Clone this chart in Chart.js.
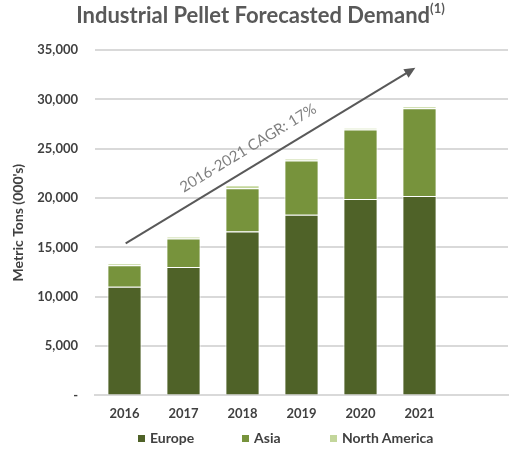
<!DOCTYPE html>
<html>
<head>
<meta charset="utf-8">
<script src="https://cdn.jsdelivr.net/npm/chart.js@4"></script>
<style>
  body { margin: 0; background: #fff; }
  #wrap { position: relative; width: 521px; height: 465px; }
  #title {
    position: absolute; left: 0; top: 1px; width: 521px; text-align: center;
    font-family: Lato, "Open Sans", sans-serif; font-weight: bold; font-size: 22px; color: #595959;
  }
  #title sup { font-size: 13px; position: relative; top: -2px; }
  #legend {
    position: absolute; left: 0; top: 429px; width: 521px;
    font-family: Lato, "Open Sans", sans-serif; font-weight: bold; font-size: 14px; color: #404040;
  }
  #legend span.item { position: absolute; white-space: nowrap; }
  #legend span.box { display: inline-block; width: 7px; height: 7px; margin-right: 5px; vertical-align: 1px; }
</style>
</head>
<body>
<div id="wrap">
  <div id="title">Industrial Pellet Forecasted Demand<sup>(1)</sup></div>
  <canvas id="chart" width="521" height="465"></canvas>
  <div id="legend"></div>
</div>
<script>
// Chart data (thousand metric tons)
var years = ["2016", "2017", "2018", "2019", "2020", "2021", ""];
var seriesNames = ["Europe", "Asia", "North America"];
var seriesColors = ["#4f6228", "#77933c", "#c3d69b"];
var europe = [11000, 13000, 16600, 18300, 19900, 20200];
var asia = [2200, 2900, 4400, 5500, 7050, 8900];
var northAmerica = [200, 200, 300, 200, 150, 200];
var yTicks = [0, 5000, 10000, 15000, 20000, 25000, 30000, 35000];

// CAGR arrow, in category index / value units
var arrowFrom = [0.02, 15400];
var arrowTo = [4.93, 33200];
var arrowLabel = "2016-2021 CAGR: 17%";

var fontFamily = "Lato, 'Open Sans', sans-serif";

// Draws the CAGR arrow and its label through the chart scales
var arrowPlugin = {
    id: "cagrArrow",
    afterDatasetsDraw: function (chart) {
        var ctx = chart.ctx;
        var xs = chart.scales.x, ys = chart.scales.y;
        var x1 = xs.getPixelForValue(arrowFrom[0]), y1 = ys.getPixelForValue(arrowFrom[1]);
        var x2 = xs.getPixelForValue(arrowTo[0]), y2 = ys.getPixelForValue(arrowTo[1]);
        var ang = Math.atan2(y2 - y1, x2 - x1);
        ctx.save();
        ctx.strokeStyle = "#595959";
        ctx.fillStyle = "#595959";
        ctx.lineWidth = 2;
        ctx.beginPath();
        ctx.moveTo(x1, y1);
        ctx.lineTo(x2 - 8 * Math.cos(ang), y2 - 8 * Math.sin(ang));
        ctx.stroke();
        ctx.beginPath();
        ctx.moveTo(x2, y2);
        ctx.lineTo(x2 - 11 * Math.cos(ang) + 5 * Math.sin(ang), y2 - 11 * Math.sin(ang) - 5 * Math.cos(ang));
        ctx.lineTo(x2 - 11 * Math.cos(ang) - 5 * Math.sin(ang), y2 - 11 * Math.sin(ang) + 5 * Math.cos(ang));
        ctx.closePath();
        ctx.fill();

        // label sits above the line, a bit left of its middle
        var t = 0.455;
        var lx = x1 + (x2 - x1) * t + 18 * Math.sin(ang);
        var ly = y1 + (y2 - y1) * t - 18 * Math.cos(ang);
        ctx.translate(lx, ly);
        ctx.rotate(ang);
        ctx.font = "15px " + fontFamily;
        ctx.fillStyle = "#7f7f7f";
        ctx.textAlign = "center";
        ctx.textBaseline = "middle";
        ctx.fillText(arrowLabel, 0, 0);
        ctx.restore();
    }
};

var chart = new Chart(document.getElementById("chart"), {
    type: "bar",
    data: {
        labels: years,
        datasets: [
            { label: seriesNames[0], data: europe, backgroundColor: seriesColors[0] },
            { label: seriesNames[1], data: asia, backgroundColor: seriesColors[1] },
            { label: seriesNames[2], data: northAmerica, backgroundColor: seriesColors[2] }
        ]
    },
    options: {
        responsive: false,
        animation: false,
        layout: { padding: { top: 50, right: 13, left: 6, bottom: 40 } },
        datasets: {
            bar: {
                categoryPercentage: 1,
                barPercentage: 0.58,
                borderColor: "#ffffff",
                borderWidth: 1
            }
        },
        scales: {
            x: {
                stacked: true,
                grid: { display: false },
                border: { color: "#d9d9d9", width: 2 },
                ticks: { color: "#404040", font: { family: fontFamily, size: 13, weight: "bold" } }
            },
            y: {
                stacked: true,
                min: 0,
                max: 35000,
                afterBuildTicks: function (axis) {
                    axis.ticks = yTicks.map(function (v) { return { value: v }; });
                },
                afterFit: function (axis) { axis.width = 89; },
                grid: { color: "#d9d9d9", lineWidth: 2, drawTicks: false },
                border: { display: false },
                ticks: {
                    padding: 17,
                    color: "#404040",
                    font: { family: fontFamily, size: 13, weight: "bold" },
                    callback: function (v) { return v === 0 ? "-" : v.toLocaleString("en-US"); }
                },
                title: {
                    display: true,
                    text: "Metric Tons (000's)",
                    color: "#404040",
                    font: { family: fontFamily, size: 14, weight: "bold" }
                }
            }
        },
        plugins: {
            legend: { display: false },
            tooltip: { enabled: false }
        }
    },
    plugins: [arrowPlugin]
});

// Legend below the axis, one item per series
var legendX = [138, 242, 330];
var legend = document.getElementById("legend");
chart.data.datasets.forEach(function (ds, i) {
    var item = document.createElement("span");
    item.className = "item";
    item.style.left = legendX[i] + "px";
    item.innerHTML = '<span class="box" style="background:' + ds.backgroundColor + '"></span>' + ds.label;
    legend.appendChild(item);
});
</script>
</body>
</html>
